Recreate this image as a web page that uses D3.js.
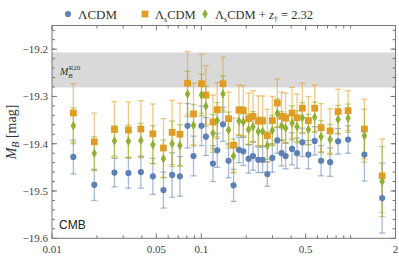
<!DOCTYPE html>
<html>
<head>
<meta charset="utf-8">
<script src="https://cdn.jsdelivr.net/npm/d3@7.9.0/dist/d3.min.js"></script>
<style>
  body { margin: 0; background: #fff; }
  svg { display: block; }
  .tick-label { font-family: "Liberation Serif", "DejaVu Serif", serif; font-size: 11px; fill: #444; }
</style>
</head>
<body>
<svg width="399" height="263"></svg>
<script>
// redshift bins
const zBins = [0.0139, 0.0192, 0.0262, 0.0325, 0.0394, 0.0474, 0.0558, 0.0638, 0.0719, 0.0809,
  0.0887, 0.1003, 0.1074, 0.1197, 0.1279, 0.1397, 0.1523, 0.1645, 0.1788, 0.1911,
  0.2074, 0.2220, 0.2409, 0.2575, 0.2770, 0.2991, 0.3231, 0.3453, 0.3673, 0.4055,
  0.4380, 0.4754, 0.5216, 0.5750, 0.6348, 0.7294, 0.8250, 0.9629, 1.238, 1.628];

// ΛCDM
const mbLCDM = [-19.428, -19.487, -19.461, -19.462, -19.460, -19.469, -19.498, -19.466, -19.469, -19.362,
  -19.426, -19.362, -19.385, -19.442, -19.414, -19.359, -19.436, -19.488, -19.413, -19.416,
  -19.432, -19.426, -19.434, -19.434, -19.464, -19.430, -19.393, -19.420, -19.426, -19.411,
  -19.420, -19.397, -19.423, -19.394, -19.436, -19.439, -19.395, -19.391, -19.423, -19.515];
const errLCDM = [0.036, 0.033, 0.030, 0.032, 0.034, 0.038, 0.038, 0.047, 0.042, 0.047,
  0.042, 0.042, 0.040, 0.038, 0.036, 0.036, 0.036, 0.034, 0.027, 0.030,
  0.030, 0.030, 0.027, 0.027, 0.026, 0.030, 0.027, 0.027, 0.027, 0.034,
  0.032, 0.030, 0.030, 0.030, 0.032, 0.030, 0.027, 0.029, 0.056, 0.074];

// ΛsCDM
const mbLsCDM = [-19.335, -19.396, -19.370, -19.371, -19.369, -19.379, -19.409, -19.376, -19.380, -19.272,
  -19.337, -19.273, -19.297, -19.354, -19.328, -19.273, -19.347, -19.403, -19.329, -19.330,
  -19.347, -19.342, -19.352, -19.352, -19.383, -19.351, -19.314, -19.342, -19.346, -19.335,
  -19.345, -19.325, -19.351, -19.325, -19.366, -19.373, -19.332, -19.330, -19.369, -19.468];
const errLsCDM = [0.062, 0.061, 0.059, 0.059, 0.060, 0.063, 0.062, 0.068, 0.066, 0.067,
  0.065, 0.063, 0.062, 0.057, 0.057, 0.056, 0.056, 0.057, 0.053, 0.053,
  0.054, 0.054, 0.053, 0.053, 0.056, 0.051, 0.051, 0.051, 0.053, 0.054,
  0.050, 0.053, 0.051, 0.049, 0.051, 0.047, 0.047, 0.042, 0.063, 0.078];

// ΛsCDM + z† = 2.32
const mbLsCDMz = [-19.362, -19.420, -19.394, -19.395, -19.393, -19.402, -19.432, -19.400, -19.404, -19.295,
  -19.361, -19.297, -19.321, -19.378, -19.351, -19.295, -19.371, -19.426, -19.352, -19.354,
  -19.370, -19.364, -19.374, -19.374, -19.404, -19.372, -19.335, -19.362, -19.367, -19.356,
  -19.364, -19.345, -19.370, -19.344, -19.385, -19.391, -19.349, -19.346, -19.383, -19.480];
const errLsCDMz = [0.038, 0.035, 0.032, 0.034, 0.036, 0.040, 0.040, 0.048, 0.044, 0.048,
  0.044, 0.044, 0.042, 0.040, 0.038, 0.038, 0.038, 0.036, 0.030, 0.032,
  0.032, 0.032, 0.030, 0.030, 0.029, 0.032, 0.030, 0.030, 0.030, 0.036,
  0.034, 0.032, 0.032, 0.032, 0.034, 0.032, 0.030, 0.030, 0.056, 0.074];

// SH0ES band
const mbR20 = -19.244, errR20 = 0.037;

const xTickLabels = [0.01, 0.05, 0.1, 0.5, 2];
const xMinorTicks = [0.02, 0.03, 0.04, 0.06, 0.07, 0.08, 0.09, 0.2, 0.3, 0.4, 0.6, 0.7, 0.8, 0.9, 1];
const yTickLabels = [-19.6, -19.5, -19.4, -19.3, -19.2];
const yMinorTicks = d3.range(-19.58, -19.15, 0.02).map(v => +v.toFixed(2));

const colors = { lcdm: '#5e81b5', ls: '#e19c24', lsz: '#8fb032' };

const svg = d3.select('svg');
const plotL = 52, plotR = 395.5, plotT = 25.5, plotB = 238.3;

const x = d3.scaleLog().domain([0.01, 2]).range([plotL, plotR]);
const y = d3.scaleLinear().domain([-19.6, -19.15]).range([plotB, plotT]);

// gray band
svg.append('rect')
  .attr('x', plotL).attr('width', plotR - plotL)
  .attr('y', y(mbR20 + errR20))
  .attr('height', y(mbR20 - errR20) - y(mbR20 + errR20))
  .attr('fill', '#d9d9d9');

svg.append('text')
  .attr('x', 60).attr('y', 75)
  .attr('font-family', 'Liberation Serif, serif')
  .attr('font-style', 'italic')
  .attr('font-size', 10)
  .attr('fill', '#333')
  .html('M<tspan dy="3" font-size="7">B</tspan><tspan dx="-4" dy="-8" font-size="7" font-style="normal">R20</tspan>');

// series
const series = [
  { key: 'lcdm', vals: mbLCDM, errs: errLCDM },
  { key: 'ls', vals: mbLsCDM, errs: errLsCDM },
  { key: 'lsz', vals: mbLsCDMz, errs: errLsCDMz }
];

const bars = svg.append('g');
series.forEach(s => {
  const g = bars.append('g')
    .attr('stroke', colors[s.key])
    .attr('stroke-opacity', 0.55)
    .attr('stroke-width', 1.3);
  zBins.forEach((z, i) => {
    const cx = x(z);
    const y0 = y(s.vals[i] - s.errs[i]);
    const y1 = y(s.vals[i] + s.errs[i]);
    g.append('line').attr('x1', cx).attr('x2', cx).attr('y1', y0).attr('y2', y1);
    g.append('line').attr('x1', cx - 3).attr('x2', cx + 3).attr('y1', y0).attr('y2', y0);
    g.append('line').attr('x1', cx - 3).attr('x2', cx + 3).attr('y1', y1).attr('y2', y1);
  });
});

const marks = svg.append('g');
const symbols = {
  lcdm: d3.symbol().type(d3.symbolCircle).size(30),
  ls: d3.symbol().type(d3.symbolSquare).size(46),
  lsz: d3.symbol().type(d3.symbolDiamond).size(26)
};
series.forEach(s => {
  marks.append('g').selectAll('path')
    .data(zBins)
    .join('path')
    .attr('d', symbols[s.key]())
    .attr('transform', (z, i) => `translate(${x(z)},${y(s.vals[i])})`)
    .attr('fill', colors[s.key]);
});

// frame + ticks
const frame = svg.append('g').attr('stroke', '#777').attr('stroke-width', 1);
frame.append('rect')
  .attr('x', plotL).attr('y', plotT)
  .attr('width', plotR - plotL).attr('height', plotB - plotT)
  .attr('fill', 'none');

xTickLabels.forEach(t => {
  frame.append('line').attr('x1', x(t)).attr('x2', x(t)).attr('y1', plotB).attr('y2', plotB - 5);
  frame.append('line').attr('x1', x(t)).attr('x2', x(t)).attr('y1', plotT).attr('y2', plotT + 5);
});
xMinorTicks.forEach(t => {
  frame.append('line').attr('x1', x(t)).attr('x2', x(t)).attr('y1', plotB).attr('y2', plotB - 3);
  frame.append('line').attr('x1', x(t)).attr('x2', x(t)).attr('y1', plotT).attr('y2', plotT + 3);
});
yTickLabels.forEach(t => {
  frame.append('line').attr('x1', plotL).attr('x2', plotL + 5).attr('y1', y(t)).attr('y2', y(t));
  frame.append('line').attr('x1', plotR).attr('x2', plotR - 5).attr('y1', y(t)).attr('y2', y(t));
});
yMinorTicks.forEach(t => {
  frame.append('line').attr('x1', plotL).attr('x2', plotL + 3).attr('y1', y(t)).attr('y2', y(t));
  frame.append('line').attr('x1', plotR).attr('x2', plotR - 3).attr('y1', y(t)).attr('y2', y(t));
});

svg.append('g').selectAll('text')
  .data(xTickLabels)
  .join('text')
  .attr('class', 'tick-label')
  .attr('x', d => x(d))
  .attr('y', 253)
  .attr('text-anchor', 'middle')
  .text(d => d);

svg.append('g').selectAll('text')
  .data(yTickLabels)
  .join('text')
  .attr('class', 'tick-label')
  .attr('x', plotL - 4)
  .attr('y', d => y(d) + 4)
  .attr('text-anchor', 'end')
  .text(d => '\u2212' + Math.abs(d).toFixed(1));

// y label
svg.append('text')
  .attr('transform', 'translate(16,132) rotate(-90)')
  .attr('text-anchor', 'middle')
  .attr('font-family', 'Liberation Serif, serif')
  .attr('font-size', 14)
  .attr('fill', '#333')
  .html('<tspan font-style="italic">M</tspan><tspan font-style="italic" font-size="10" dy="3">B</tspan><tspan dy="-3"> [mag]</tspan>');

svg.append('text')
  .attr('x', 59).attr('y', 229)
  .attr('font-family', 'Liberation Sans, Arial, sans-serif')
  .attr('font-size', 12)
  .attr('fill', '#222')
  .text('CMB');

// legend
const legend = svg.append('g').attr('font-family', 'Liberation Serif, serif').attr('font-size', 13).attr('fill', '#333');
const legendItems = [
  { key: 'lcdm', x: 68, html: 'ΛCDM' },
  { key: 'ls', x: 145, html: 'Λ<tspan font-size="8" dy="3">s</tspan><tspan dy="-3">CDM</tspan>' },
  { key: 'lsz', x: 205, html: 'Λ<tspan font-size="8" dy="3">s</tspan><tspan dy="-3">CDM + </tspan><tspan font-style="italic">z</tspan><tspan font-size="8" dy="3">†</tspan><tspan dy="-3"> = 2.32</tspan>' }
];
legendItems.forEach(d => {
  legend.append('path')
    .attr('d', symbols[d.key]())
    .attr('transform', `translate(${d.x},14)`)
    .attr('fill', colors[d.key]);
  legend.append('text')
    .attr('x', d.x + 10).attr('y', 18.5)
    .attr('font-size', d.key === 'lcdm' ? 13 : 12.5)
    .html(d.html);
});
</script>
</body>
</html>
